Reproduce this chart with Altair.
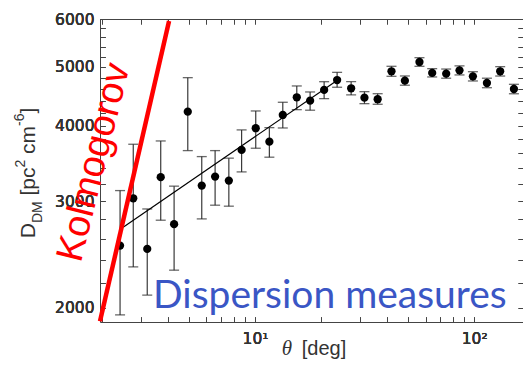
import altair as alt
import pandas as pd

# ---- data ----
theta = [2.42, 2.78, 3.22, 3.71, 4.27, 4.93, 5.71, 6.57, 7.59, 8.68,
         10.07, 11.62, 13.38, 15.50, 17.83, 20.66, 23.68, 27.44, 31.56, 36.26,
         41.93, 48.27, 56.26, 64.31, 74.49, 85.69, 98.65, 114.3, 131.4, 151.8]
dm = [2534, 3034, 2502, 3288, 2749, 4218, 3184, 3295, 3245, 3647,
      3960, 3763, 4165, 4455, 4398, 4581, 4757, 4610, 4448, 4422,
      4918, 4745, 5095, 4887, 4873, 4936, 4825, 4704, 4918, 4598]
dm_lo = [1947, 2337, 2099, 2791, 2308, 3637, 2805, 2955, 2944, 3354,
         3670, 3547, 3964, 4250, 4241, 4432, 4628, 4495, 4348, 4338,
         4825, 4664, 5012, 4813, 4790, 4850, 4740, 4620, 4830, 4515]
dm_hi = [3124, 3726, 2913, 3773, 3177, 4800, 3555, 3637, 3534, 3935,
         4229, 3969, 4371, 4651, 4546, 4727, 4898, 4727, 4551, 4516,
         5012, 4831, 5179, 4967, 4960, 5020, 4910, 4790, 5005, 4680]

fit_theta = [2.50, 23.2]
fit_dm = [2718, 4727]
kolmo_theta = [1.96, 4.05]
kolmo_dm = [1900, 5954]

x_ticks = [2, 3, 4, 5, 6, 7, 8, 9, 10, 20, 30, 40, 50, 60, 70, 80, 90, 100]
y_ticks = list(range(2000, 6001, 200))

df = pd.DataFrame({"theta": theta, "dm": dm, "lo": dm_lo, "hi": dm_hi})
fit_df = pd.DataFrame({"theta": fit_theta, "dm": fit_dm})
kol_df = pd.DataFrame({"theta": kolmo_theta, "dm": kolmo_dm})

xs = alt.Scale(type="log", domain=[1.96, 167], nice=False)
ys = alt.Scale(type="log", domain=[1895, 6000], nice=False)

AX = "#444444"
LBL = "#333333"

x_bottom = alt.Axis(orient="bottom", values=x_ticks, title=None, grid=False,
                    domain=False, tickSize=5, offset=-5, tickColor=AX,
                    labelExpr="datum.value == 10 ? '10\u00b9' : datum.value == 100 ? '10\u00b2' : ''",
                    labelFont="DejaVu Sans", labelFontSize=15.5, labelColor=LBL,
                    labelPadding=9, labelOverlap=False, labelFlush=False)
y_left = alt.Axis(orient="left", values=y_ticks, title=None, grid=False,
                  domain=False, tickSize=5, offset=-5, tickColor=AX,
                  labelExpr="datum.value % 1000 == 0 ? format(datum.value, 'd') : ''",
                  labelFont="DejaVu Sans", labelFontSize=15.5, labelColor=LBL,
                  labelPadding=6, labelOverlap=False, labelFlush=False)
x_top = alt.Axis(orient="top", values=x_ticks, title=None, grid=False,
                 domain=False, tickSize=5, offset=-5, tickColor=AX, labels=False)
y_right = alt.Axis(orient="right", values=y_ticks, title=None, grid=False,
                   domain=False, tickSize=5, offset=-5, tickColor=AX, labels=False)

base = alt.Chart(df)

bars = base.mark_rule(color="#3a3a3a", strokeWidth=1.2).encode(
    x=alt.X("theta:Q", scale=xs, axis=x_bottom),
    y=alt.Y("lo:Q", scale=ys, axis=y_left),
    y2="hi:Q",
)
cap_lo = base.mark_tick(color="#2a2a2a", orient="horizontal", size=10, thickness=1.3).encode(
    x=alt.X("theta:Q", scale=xs, axis=x_bottom),
    y=alt.Y("lo:Q", scale=ys, axis=y_left),
)
cap_hi = base.mark_tick(color="#2a2a2a", orient="horizontal", size=10, thickness=1.3).encode(
    x=alt.X("theta:Q", scale=xs, axis=x_bottom),
    y=alt.Y("hi:Q", scale=ys, axis=y_left),
)
points = base.mark_circle(color="black", size=68, opacity=1).encode(
    x=alt.X("theta:Q", scale=xs, axis=x_bottom),
    y=alt.Y("dm:Q", scale=ys, axis=y_left),
)
fit = alt.Chart(fit_df).mark_line(color="black", strokeWidth=1.2).encode(
    x=alt.X("theta:Q", scale=xs, axis=x_top),
    y=alt.Y("dm:Q", scale=ys, axis=y_right),
)
kol = alt.Chart(kol_df).mark_line(color="#ff0000", strokeWidth=4.5).encode(
    x=alt.X("theta:Q", scale=xs, axis=x_top),
    y=alt.Y("dm:Q", scale=ys, axis=y_right),
)


def label(txt, x, y, size, font="Liberation Sans", color=LBL, angle=0,
          align="left", baseline="alphabetic", style="normal"):
    return alt.Chart(pd.DataFrame({"t": [txt]})).mark_text(
        font=font, fontSize=size, color=color, angle=angle, align=align,
        baseline=baseline, fontStyle=style,
    ).encode(x=alt.value(x), y=alt.value(y), text="t:N")


texts = [
    label("Kolmogorov", -5.5, 143.5, 38, color="#ff0000", angle=284,
          align="center", baseline="middle"),
    label("Dispersion measures", 53, 288.7, 39, font="Lato", color="#3a56c5"),
    # y title  D_DM [pc^2 cm^-6]
    label("D", -65, 219.3, 21, angle=270),
    label("DM", -58, 204.1, 14, angle=270),
    label("[pc", -65, 176.5, 21, angle=270),
    label("2", -75, 148.5, 14, angle=270),
    label("cm", -65, 134.9, 21, angle=270),
    label("-6", -76, 106.9, 14, angle=270),
    label("]", -65, 94.5, 21, angle=270),
    # x title  θ [deg]
    label("\u03b8", 181.7, 336, 21, font="Liberation Serif", style="italic"),
    label("[deg]", 201.7, 336, 20),
]

chart = alt.layer(bars, cap_lo, cap_hi, points, fit, kol, *texts).resolve_axis(
    x="independent", y="independent"
).properties(
    width=423, height=303,
    padding={"left": 92, "top": 11, "right": 0, "bottom": 38},
    autosize="none",
    background="white",
).configure_view(stroke=AX, strokeWidth=1)

chart.save("out.html", embed_options={"renderer": "svg", "actions": False})
